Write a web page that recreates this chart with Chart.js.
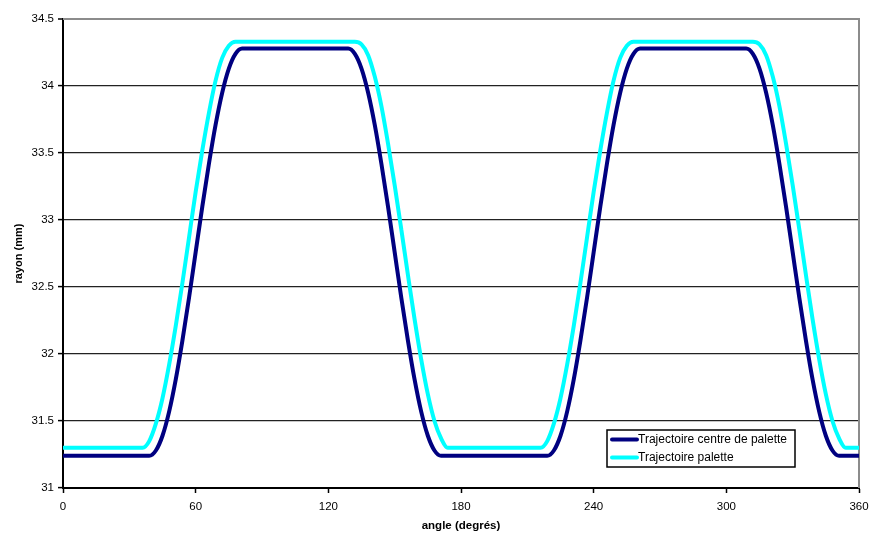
<!DOCTYPE html>
<html>
<head>
<meta charset="utf-8">
<script src="https://cdn.jsdelivr.net/npm/chart.js@4.4.1/dist/chart.umd.min.js"></script>
<style>
  html, body { margin: 0; padding: 0; background: #fff; }
  canvas { display: block; }
</style>
</head>
<body>
<canvas id="chart" width="871" height="536"></canvas>
<script>
// Angle (degrees), one reading every 3 degrees
const angles = [
  0, 3, 6, 9, 12, 15, 18, 21, 24, 27,
  30, 33, 36, 39, 42, 45, 48, 51, 54, 57,
  60, 63, 66, 69, 72, 75, 78, 81, 84, 87,
  90, 93, 96, 99, 102, 105, 108, 111, 114, 117,
  120, 123, 126, 129, 132, 135, 138, 141, 144, 147,
  150, 153, 156, 159, 162, 165, 168, 171, 174, 177,
  180, 183, 186, 189, 192, 195, 198, 201, 204, 207,
  210, 213, 216, 219, 222, 225, 228, 231, 234, 237,
  240, 243, 246, 249, 252, 255, 258, 261, 264, 267,
  270, 273, 276, 279, 282, 285, 288, 291, 294, 297,
  300, 303, 306, 309, 312, 315, 318, 321, 324, 327,
  330, 333, 336, 339, 342, 345, 348, 351, 354, 357,
  360
];

// Trajectoire centre de palette (mm)
const centreValues = [
  31.24, 31.24, 31.24, 31.24, 31.24, 31.24, 31.24, 31.24, 31.24, 31.24,
  31.24, 31.24, 31.24, 31.24, 31.28, 31.39, 31.57, 31.81, 32.10, 32.42,
  32.76, 33.10, 33.42, 33.71, 33.95, 34.13, 34.24, 34.28, 34.28, 34.28,
  34.28, 34.28, 34.28, 34.28, 34.28, 34.28, 34.28, 34.28, 34.28, 34.28,
  34.28, 34.28, 34.28, 34.28, 34.24, 34.13, 33.95, 33.71, 33.42, 33.10,
  32.76, 32.42, 32.10, 31.81, 31.57, 31.39, 31.28, 31.24, 31.24, 31.24,
  31.24, 31.24, 31.24, 31.24, 31.24, 31.24, 31.24, 31.24, 31.24, 31.24,
  31.24, 31.24, 31.24, 31.24, 31.28, 31.39, 31.57, 31.81, 32.10, 32.42,
  32.76, 33.10, 33.42, 33.71, 33.95, 34.13, 34.24, 34.28, 34.28, 34.28,
  34.28, 34.28, 34.28, 34.28, 34.28, 34.28, 34.28, 34.28, 34.28, 34.28,
  34.28, 34.28, 34.28, 34.28, 34.24, 34.13, 33.95, 33.71, 33.42, 33.10,
  32.76, 32.42, 32.10, 31.81, 31.57, 31.39, 31.28, 31.24, 31.24, 31.24,
  31.24
];

// Trajectoire palette (mm)
const paletteValues = [
  31.30, 31.30, 31.30, 31.30, 31.30, 31.30, 31.30, 31.30, 31.30, 31.30,
  31.30, 31.30, 31.30, 31.35, 31.48, 31.67, 31.92, 32.21, 32.53, 32.87,
  33.21, 33.52, 33.80, 34.04, 34.21, 34.30, 34.33, 34.33, 34.33, 34.33,
  34.33, 34.33, 34.33, 34.33, 34.33, 34.33, 34.33, 34.33, 34.33, 34.33,
  34.33, 34.33, 34.33, 34.33, 34.33, 34.31, 34.23, 34.07, 33.85, 33.57,
  33.26, 32.93, 32.59, 32.26, 31.96, 31.70, 31.50, 31.37, 31.30, 31.30,
  31.30, 31.30, 31.30, 31.30, 31.30, 31.30, 31.30, 31.30, 31.30, 31.30,
  31.30, 31.30, 31.30, 31.35, 31.48, 31.67, 31.92, 32.21, 32.53, 32.87,
  33.21, 33.52, 33.80, 34.04, 34.21, 34.30, 34.33, 34.33, 34.33, 34.33,
  34.33, 34.33, 34.33, 34.33, 34.33, 34.33, 34.33, 34.33, 34.33, 34.33,
  34.33, 34.33, 34.33, 34.33, 34.33, 34.31, 34.23, 34.07, 33.85, 33.57,
  33.26, 32.93, 32.59, 32.26, 31.96, 31.70, 31.50, 31.37, 31.30, 31.30,
  31.30
];

const seriesLabels = ['Trajectoire centre de palette', 'Trajectoire palette'];
const xTicks = [0, 60, 120, 180, 240, 300, 360];
const yTicks = [31, 31.5, 32, 32.5, 33, 33.5, 34, 34.5];

const FONT = "'Liberation Sans', Arial, sans-serif";
Chart.defaults.font.family = FONT;
Chart.defaults.color = '#000';

const toPoints = values => angles.map((a, i) => ({ x: a, y: values[i] }));

// Gray frame on the top/right of the plot area
const plotFrame = {
  id: 'plotFrame',
  beforeDatasetsDraw(chart) {
    const { ctx, chartArea: a } = chart;
    ctx.save();
    ctx.strokeStyle = '#8c8c8c';
    ctx.lineWidth = 2;
    ctx.beginPath();
    ctx.moveTo(a.left, a.top);
    ctx.lineTo(a.right, a.top);
    ctx.lineTo(a.right, a.bottom);
    ctx.stroke();
    ctx.restore();
  }
};

// Boxed legend inside the plot, bottom right
const boxLegend = {
  id: 'boxLegend',
  afterDraw(chart) {
    const { ctx, chartArea: a } = chart;
    const w = 188, h = 37;
    const x = a.right - 64 - w;
    const y = a.bottom - 21 - h;
    ctx.save();
    ctx.fillStyle = '#fff';
    ctx.fillRect(x, y, w, h);
    ctx.strokeStyle = '#000';
    ctx.lineWidth = 1.5;
    ctx.strokeRect(x, y, w, h);
    ctx.font = '12px ' + FONT;
    ctx.textBaseline = 'middle';
    chart.data.datasets.forEach((ds, i) => {
      const rowY = y + 9.5 + i * 18;
      ctx.strokeStyle = ds.borderColor;
      ctx.lineWidth = 4;
      ctx.lineCap = 'round';
      ctx.beginPath();
      ctx.moveTo(x + 5, rowY);
      ctx.lineTo(x + 30, rowY);
      ctx.stroke();
      ctx.fillStyle = '#000';
      ctx.fillText(ds.label, x + 31, rowY + 0.5);
    });
    ctx.restore();
  }
};

new Chart(document.getElementById('chart'), {
  type: 'line',
  data: {
    datasets: [
      {
        label: seriesLabels[0],
        data: toPoints(centreValues),
        borderColor: '#000080',
        borderWidth: 4,
        pointRadius: 0,
        cubicInterpolationMode: 'monotone',
        fill: false
      },
      {
        label: seriesLabels[1],
        data: toPoints(paletteValues),
        borderColor: '#00ffff',
        borderWidth: 4,
        pointRadius: 0,
        cubicInterpolationMode: 'monotone',
        fill: false
      }
    ]
  },
  options: {
    responsive: false,
    animation: false,
    layout: {
      padding: { top: 19, right: 12, left: 0, bottom: 0 }
    },
    plugins: {
      legend: { display: false },
      tooltip: { enabled: false }
    },
    scales: {
      x: {
        type: 'linear',
        min: 0,
        max: 360,
        afterBuildTicks: scale => { scale.ticks = xTicks.map(v => ({ value: v })); },
        afterFit: scale => {
          scale.height = 48;
          scale.paddingLeft = 0;
          scale.paddingRight = 0;
        },
        border: { color: '#000', width: 2 },
        grid: {
          drawOnChartArea: false,
          drawTicks: true,
          tickLength: 5,
          tickColor: '#000',
          tickWidth: 1.5
        },
        ticks: {
          padding: 7,
          maxRotation: 0,
          font: { size: 11.5 },
          callback: v => String(v)
        },
        title: {
          display: true,
          text: 'angle (degrés)',
          font: { size: 11.5, weight: 'bold' },
          padding: { top: 0, bottom: 3 }
        }
      },
      y: {
        min: 31,
        max: 34.5,
        afterBuildTicks: scale => { scale.ticks = yTicks.map(v => ({ value: v })); },
        afterFit: scale => { scale.width = 63; },
        border: { color: '#000', width: 2 },
        grid: {
          color: c => (c.tick && c.tick.value === 34.5 ? '#8c8c8c' : '#222'),
          lineWidth: c => (c.tick && c.tick.value === 34.5 ? 2 : 1.2),
          drawTicks: true,
          tickLength: 5,
          tickColor: '#000',
          tickWidth: 1.5
        },
        ticks: {
          padding: 4,
          font: { size: 11.5 },
          callback: v => String(v)
        },
        title: {
          display: true,
          text: 'rayon (mm)',
          font: { size: 11, weight: 'bold' },
          padding: { top: 12, bottom: 0 }
        }
      }
    }
  },
  plugins: [plotFrame, boxLegend]
});
</script>
</body>
</html>
